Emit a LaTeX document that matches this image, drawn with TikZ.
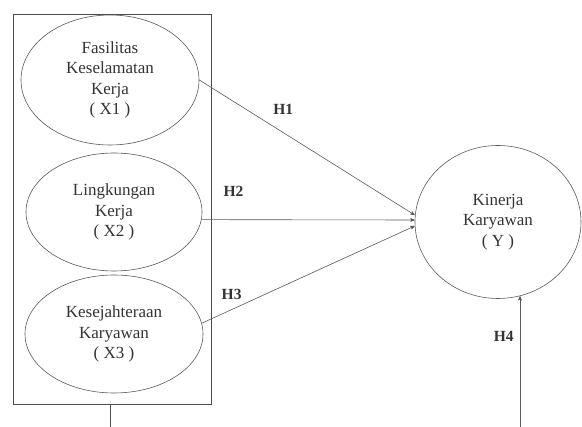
\documentclass[tikz,border=0pt]{standalone}
\usepackage{fontspec}
\setmainfont{Liberation Serif}
\usetikzlibrary{arrows,shapes.geometric}

\begin{document}
\begin{tikzpicture}[
  x=1pt,y=-1pt,
  every node/.style={align=center,text=black!80},
  latent/.style={draw=black!65,semithick,ellipse,inner sep=0pt,font=\fontsize{17}{20.5}\selectfont},
  frame/.style={draw=black!70,semithick,inner sep=0pt},
  to/.style={->,>=stealth',semithick,draw=black!65},
  hyp/.style={inner sep=0pt,font=\fontsize{15.5}{18}\selectfont\bfseries}]

  \useasboundingbox (0,0) rectangle (582,427);

  % Position the nodes at the coordinates of the layout
  \node[frame,minimum width=198pt,minimum height=390pt] (box) at (112,209) {};
  \node[latent,minimum width=178pt,minimum height=130pt] (X1) at (110,80) {Fasilitas\\Keselamatan\\Kerja\\( X1 )};
  \node[latent,minimum width=176pt,minimum height=118pt] (X2) at (114,212) {Lingkungan\\Kerja\\( X2 )};
  \node[latent,minimum width=178pt,minimum height=118pt] (X3) at (114,334) {Kesejahteraan\\Karyawan\\( X3 )};
  \node[latent,minimum width=166pt,minimum height=153pt] (Y) at (498,222) {Kinerja\\Karyawan\\( Y )};
  \coordinate (Xfoot) at (110,427);
  \coordinate (Yfoot) at (520,427);

  % Draw the arrows between the nodes and label them.
  \draw[to] (X1.east) -- node[hyp,pos=0.39,above=18pt] {H1} ([yshift=7pt]Y.west);
  \draw[to] (X2.-5) -- node[hyp,pos=0.15,above=23pt] {H2} ([yshift=2pt]Y.west);
  \draw[to] (X3.7) -- node[hyp,pos=0.14,above=10pt] {H3} ([yshift=-4pt]Y.west);
  \draw[to] (Yfoot) -- node[hyp,pos=0.69,left=6pt] {H4} (Yfoot |- Y.-74);
  \draw[draw=black!70,semithick] (box.south -| Xfoot) -- (Xfoot);
\end{tikzpicture}
\end{document}
